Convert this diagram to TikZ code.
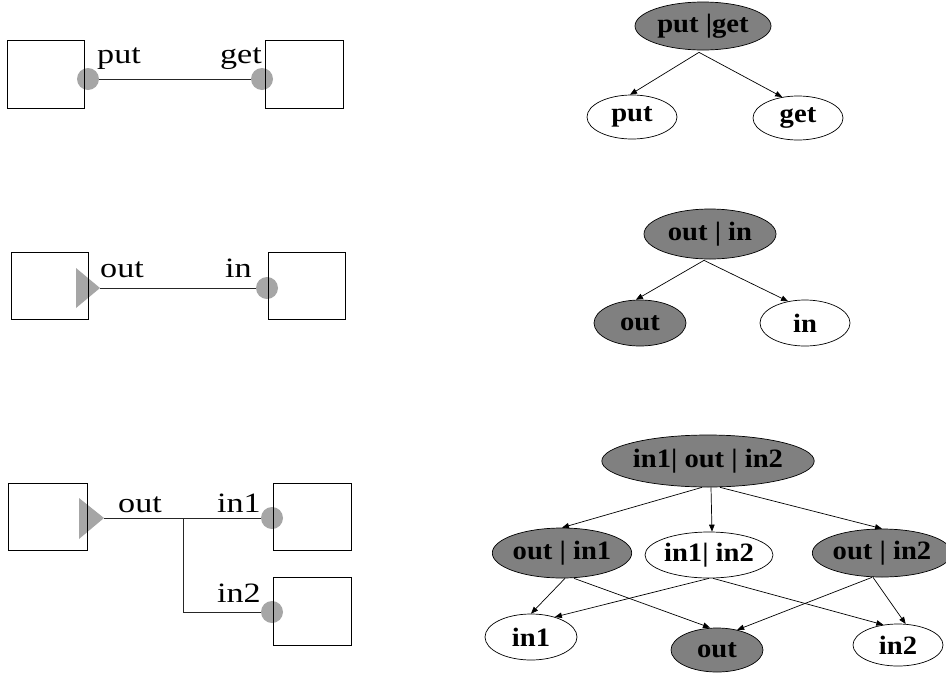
\documentclass[tikz,border=0pt]{standalone}
\usepackage{fontspec}
\usetikzlibrary{shapes.geometric,arrows.meta}
\newfontfamily\labf[FakeStretch=1.22]{Liberation Serif}
\newfontfamily\elf[FakeStretch=1.08]{Liberation Serif}
\definecolor{portgray}{RGB}{166,166,166}
\definecolor{ellgray}{RGB}{128,128,128}
\tikzset{
  box/.style={draw, line width=0.9pt, rectangle, inner sep=0pt, minimum width=77pt, minimum height=67pt},
  port/.style={circle, fill=portgray, inner sep=0pt, minimum size=22pt},
  trifill/.style={fill=portgray},
  wire/.style={line width=0.9pt, draw=black!85},
  lbl/.style={inner sep=0pt, font=\labf\fontsize{28}{31}\selectfont},
  ell/.style={ellipse, draw, line width=0.7pt, inner sep=0pt, font=\elf\bfseries\fontsize{26.5}{29}\selectfont},
  gell/.style={ell, fill=ellgray},
  well/.style={ell, fill=white},
  arr/.style={line width=0.7pt, -{Triangle[length=7pt,width=5.5pt]}},
}
\begin{document}
\begin{tikzpicture}[x=1pt,y=-1pt]
\useasboundingbox (0,0) rectangle (946,678);
\fill[white] (0,0) rectangle (946,678);

% ---------- left, row 1 ----------
\node[port] (c1) at (88,79) {};
\node[port] (c2) at (262,79) {};
\node[box, minimum width=77pt, minimum height=68pt] (b1) at (45.5,74) {};
\node[box, minimum width=78pt, minimum height=68pt] (b2) at (304,74) {};
\draw[wire] (c1) -- (c2);
\node[lbl, anchor=base west] (lput) at (97,63) {put};
\node[lbl, anchor=base east] (lget) at (262,63) {get};

% ---------- left, row 2 ----------
\coordinate (t1) at (100,288);
\fill[trifill] (t1) -- (76,268) -- (76,308) -- cycle;
\node[port] (c3) at (267,288) {};
\node[box] (b3) at (49.5,285.5) {};
\node[box] (b4) at (306.5,285.5) {};
\draw[wire] (t1) -- (c3);
\node[lbl, anchor=base west] (lout1) at (100,277) {out};
\node[lbl, anchor=base east] (lin) at (252,277) {in};

% ---------- left, row 3 ----------
\coordinate (t2) at (104,518);
\fill[trifill] (t2) -- (79,498) -- (79,539) -- cycle;
\node[port] (c4) at (272,518) {};
\node[port] (c5) at (272,612) {};
\node[box, minimum width=79pt] (b5) at (47.5,516.5) {};
\node[box, minimum width=78pt] (b6) at (312,516.5) {};
\node[box, minimum width=78pt, minimum height=68pt] (b7) at (312,611) {};
\coordinate (j) at (183,519);
\draw[wire] (t2) -- (c4);
\draw[wire] (j) |- (c5);
\node[lbl, anchor=base west] (lout2) at (118,512) {out};
\node[lbl, anchor=base east] (lin1) at (261,512) {in1};
\node[lbl, anchor=base east] (lin2) at (261,602) {in2};

% ---------- right, tree 1 ----------
\node[gell, minimum width=136pt, minimum height=48pt] (A) at (703,26) {put |get};
\node[well, minimum width=90pt, minimum height=44pt] (A1) at (632,117) {put};
\node[well, minimum width=90pt, minimum height=44pt] (A2) at (798,118) {get};
\draw[arr] ([xshift=-4pt,yshift=-2pt]A.south) -- (A1.95);
\draw[arr] ([xshift=-4pt,yshift=-2pt]A.south) -- (A2.127);

% ---------- right, tree 2 ----------
\node[gell, minimum width=132pt, minimum height=50pt] (B) at (710,234) {out | in};
\node[gell, minimum width=92pt, minimum height=46pt] (B1) at (640,323) {out};
\node[well, minimum width=90pt, minimum height=46pt] (B2) at (805,323) {in};
\draw[arr] ([xshift=-6pt,yshift=-1pt]B.south) -- (B1.100);
\draw[arr] ([xshift=-6pt,yshift=-1pt]B.south) -- (B2.128);

% ---------- right, tree 3 ----------
\node[gell, minimum width=166pt, minimum height=52pt] (C) at (708,461) {in1| out | in2};
\node[gell, minimum width=132pt, minimum height=50pt] (C1) at (562,553) {out | in1};
\node[well, minimum width=128pt, minimum height=46pt] (C2) at (709,555) {in1| in2};
\node[gell, minimum width=126pt, minimum height=48pt] (C3) at (882,553) {out | in2};
\node[well, minimum width=92pt, minimum height=46pt] (C4) at (531,637) {in1};
\node[gell, minimum width=92pt, minimum height=44pt] (C5) at (717,650) {out};
\node[well, minimum width=90pt, minimum height=42pt] (C6) at (898,645) {in2};
\draw[arr] ([xshift=-6pt]C.south) -- (C1.north);
\draw[arr] ([xshift=3pt]C.south) -- ([xshift=3pt]C2.north);
\draw[arr] ([xshift=12pt]C.south) -- (C3.north);
\draw[arr] ([xshift=3pt]C1.south) -- (C4.north);
\draw[arr] ([xshift=12pt]C1.south) -- ([xshift=-7pt]C5.north);
\draw[arr] (C2.south) -- (C4.40);
\draw[arr] ([xshift=4pt]C2.south) -- (C6.126);
\draw[arr] ([xshift=-10pt]C3.south) -- (C5.45);
\draw[arr] ([xshift=-9pt]C3.south) -- (C6.70);
\end{tikzpicture}
\end{document}
